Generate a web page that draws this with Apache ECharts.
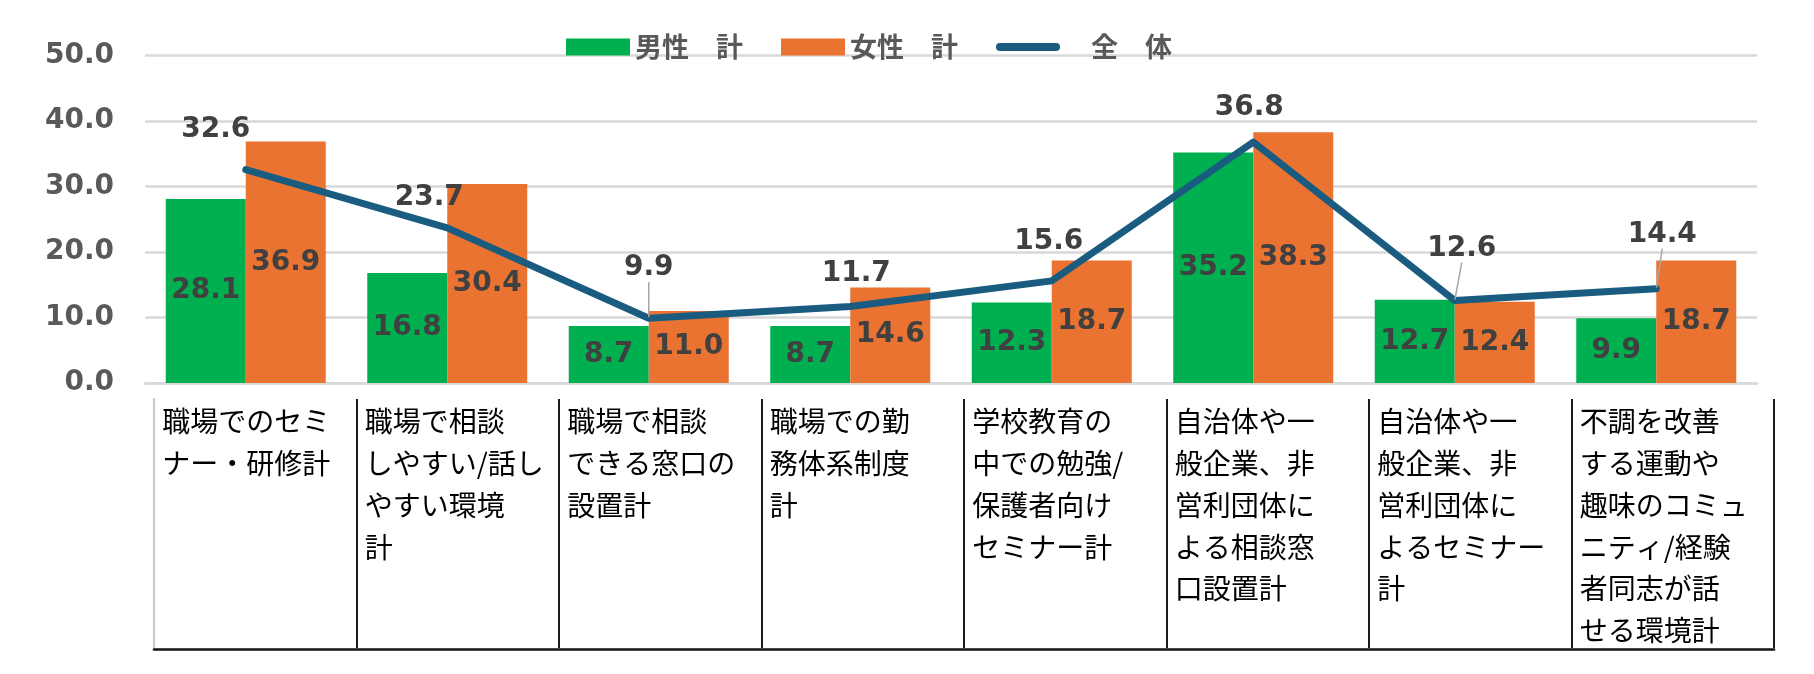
<!DOCTYPE html>
<html>
<head>
<meta charset="utf-8">
<script src="https://cdn.jsdelivr.net/npm/echarts@6/dist/echarts.min.js"></script>
<style>
html,body{margin:0;padding:0;background:#fff;}
#c{width:1814px;height:674px;}
</style>
</head>
<body>
<div id="c"></div>
<script>
const categories = [
  '職場でのセミ\nナー・研修計',
  '職場で相談\nしやすい/話し\nやすい環境\n計',
  '職場で相談\nできる窓口の\n設置計',
  '職場での勤\n務体系制度\n計',
  '学校教育の\n中での勉強/\n保護者向け\nセミナー計',
  '自治体や一\n般企業、非\n営利団体に\nよる相談窓\n口設置計',
  '自治体や一\n般企業、非\n営利団体に\nよるセミナー\n計',
  '不調を改善\nする運動や\n趣味のコミュ\nニティ/経験\n者同志が話\nせる環境計'
];
const maleValues = [28.1, 16.8, 8.7, 8.7, 12.3, 35.2, 12.7, 9.9];
const femaleValues = [36.9, 30.4, 11.0, 14.6, 18.7, 38.3, 12.4, 18.7];
const totalValues = [32.6, 23.7, 9.9, 11.7, 15.6, 36.8, 12.6, 14.4];
const yTickValues = [0, 10, 20, 30, 40, 50];
const seriesNames = ['男性　計', '女性　計', '全　体'];

// label styling (offsets of the line's data labels, leader-line flags)
const totalLabelShift = [[-30, -8], [-18, 2], [0, -18], [6, -1], [-3, -7], [-4, -2], [7, -20], [6, -22]];
const totalLabelLeader = [false, false, true, false, false, false, true, true];

const GREEN = '#00b050', ORANGE = '#eb7331', BLUE = '#1a5c80';
const numFont = 'DejaVu Sans';
const cjkFont = 'Noto Sans CJK JP';
const lineLegendIcon = 'path://M4.5,0 L67.5,0 A4.5,4.5 0 0 1 67.5,9 L4.5,9 A4.5,4.5 0 0 1 4.5,0 Z';

const chart = echarts.init(document.getElementById('c'));

const barLabel = {
  show: true,
  position: 'inside',
  formatter: p => Number(p.value).toFixed(1),
  fontFamily: numFont,
  fontWeight: 'bold',
  fontSize: 28,
  color: '#404040'
};

const option = {
  animation: false,
  backgroundColor: '#fff',
  legend: {
    left: 561,
    top: 27,
    itemWidth: 64,
    itemHeight: 17,
    itemGap: 38,
    symbolKeepAspect: true,
    textStyle: { fontFamily: cjkFont, fontWeight: 'bold', fontSize: 27, color: '#595959', lineHeight: 30 },
    data: [
      { name: seriesNames[0], icon: 'rect' },
      { name: seriesNames[1], icon: 'rect' },
      { name: seriesNames[2], icon: lineLegendIcon, itemStyle: { color: BLUE }, textStyle: { padding: [0, 0, 0, 26] } }
    ]
  },
  grid: [
    { left: 145, right: 57, top: 55.7, bottom: 291 },
    { left: 154, top: 399, width: 1620, height: 250 }
  ],
  xAxis: [
    {
      gridIndex: 0, type: 'category', data: categories,
      axisLine: { show: true, lineStyle: { color: '#d9d9d9', width: 2.5 } },
      axisTick: { show: false }, axisLabel: { show: false }, splitLine: { show: false }
    },
    {
      gridIndex: 1, type: 'category', data: categories, position: 'top',
      axisLine: { show: true, lineStyle: { color: '#d9d9d9', width: 3 } },
      axisTick: { show: false },
      splitLine: { show: true, showMinLine: false, lineStyle: { color: '#1a1a1a', width: 2 } },
      axisLabel: {
        show: true, inside: true, interval: 0, margin: 2,
        verticalAlign: 'top', align: 'center', width: 186, overflow: 'none',
        fontFamily: cjkFont, fontSize: 28, lineHeight: 41.7, color: '#000',
        formatter: v => v.split('\n').map(s => '{a|' + s + '}').join('\n'),
        rich: { a: { align: 'left', fontFamily: cjkFont, fontSize: 28, lineHeight: 41.7, color: '#000' } }
      }
    },
    {
      gridIndex: 1, type: 'category', data: categories, position: 'bottom',
      axisLine: { show: true, lineStyle: { color: '#1a1a1a', width: 2.5 } },
      axisTick: { show: false }, axisLabel: { show: false }, splitLine: { show: false }
    }
  ],
  yAxis: [
    {
      gridIndex: 0, type: 'value',
      min: yTickValues[0], max: yTickValues[yTickValues.length - 1], interval: yTickValues[1] - yTickValues[0],
      axisLine: { show: false }, axisTick: { show: false },
      axisLabel: {
        margin: 31, formatter: v => v.toFixed(1),
        fontFamily: numFont, fontWeight: 'bold', fontSize: 28, color: '#595959'
      },
      splitLine: { show: true, lineStyle: { color: '#d9d9d9', width: 2.5 } }
    },
    {
      gridIndex: 1, type: 'value', min: 0, max: 1,
      axisLine: { show: true, lineStyle: { color: '#c8c8c8', width: 2 } },
      axisTick: { show: false }, axisLabel: { show: false }, splitLine: { show: false }
    }
  ],
  series: [
    {
      name: seriesNames[0], type: 'bar', xAxisIndex: 0, yAxisIndex: 0,
      data: maleValues, barWidth: 80, barGap: '0%',
      itemStyle: { color: GREEN }, label: barLabel
    },
    {
      name: seriesNames[1], type: 'bar', xAxisIndex: 0, yAxisIndex: 0,
      data: femaleValues, barWidth: 80, barGap: '0%',
      itemStyle: { color: ORANGE }, label: barLabel
    },
    {
      name: seriesNames[2], type: 'line', xAxisIndex: 0, yAxisIndex: 0, z: 5,
      data: totalValues.map((v, i) => totalLabelLeader[i]
        ? { value: v, labelLine: { show: true, lineStyle: { color: '#a6a6a6', width: 1.5 } } }
        : { value: v }),
      symbol: 'circle', symbolSize: 2, showSymbol: true,
      itemStyle: { color: BLUE },
      lineStyle: { color: BLUE, width: 7, cap: 'round', join: 'round' },
      label: {
        show: true, position: 'top', distance: 17,
        formatter: p => Number(p.value).toFixed(1),
        fontFamily: numFont, fontWeight: 'bold', fontSize: 28, color: '#404040'
      },
      labelLine: { show: false },
      labelLayout: params => {
        const s = totalLabelShift[params.dataIndex];
        return { dx: s[0], dy: s[1] };
      }
    }
  ]
};
chart.setOption(option);
</script>
</body>
</html>
